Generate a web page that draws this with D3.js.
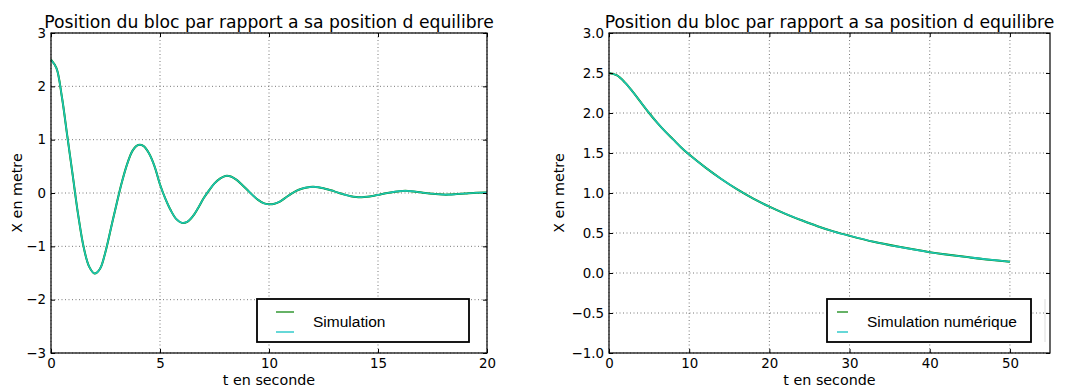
<!DOCTYPE html>
<html>
<head>
<meta charset="utf-8">
<script src="https://cdn.jsdelivr.net/npm/d3@7"></script>
<style>
  html, body { margin: 0; padding: 0; background: #fff; }
  svg { display: block; }
</style>
</head>
<body>
<div id="chart"></div>
<script>
// data
var titleText = "Position du bloc par rapport a sa position d equilibre";
var xLabelText = "t en seconde";
var yLabelText = "X en metre";

var leftTime = [0, 0.25, 0.5, 0.75, 1, 1.25, 1.5, 1.75, 2, 2.25, 2.5, 2.75, 3, 3.25, 3.5, 3.75,
  4, 4.25, 4.5, 4.75, 5, 5.25, 5.5, 5.75, 6, 6.25, 6.5, 6.75, 7, 7.25, 7.5, 7.75,
  8, 8.25, 8.5, 8.75, 9, 9.25, 9.5, 9.75, 10, 10.25, 10.5, 10.75, 11, 11.25, 11.5, 11.75,
  12, 12.25, 12.5, 12.75, 13, 13.25, 13.5, 13.75, 14, 14.25, 14.5, 14.75, 15, 15.5,
  16, 16.25, 16.5, 17, 17.5, 18, 18.25, 18.5, 19, 19.5, 20];
var leftSimulation = [2.5, 2.34, 1.8, 1.06, 0.32, -0.42, -1.02, -1.38, -1.51, -1.42, -1.1, -0.66, -0.22, 0.2, 0.55, 0.8,
  0.9, 0.88, 0.74, 0.5, 0.16, -0.11, -0.33, -0.49, -0.56, -0.54, -0.44, -0.28, -0.1, 0.05, 0.18, 0.27,
  0.32, 0.31, 0.25, 0.16, 0.06, -0.04, -0.13, -0.19, -0.21, -0.2, -0.16, -0.09, -0.02, 0.04, 0.08, 0.105,
  0.115, 0.11, 0.09, 0.06, 0.03, -0.005, -0.035, -0.06, -0.075, -0.078, -0.07, -0.055, -0.035, 0.005,
  0.035, 0.04, 0.035, 0.01, -0.015, -0.03, -0.03, -0.025, -0.01, 0.005, 0.01];

var rightTime = [0, 1, 2, 3, 4, 5, 6, 7, 8, 9, 10, 12, 14, 16, 18, 20, 22, 24, 26, 28, 30, 33, 36, 40, 45, 50];
var rightSimulation = [2.5, 2.47, 2.38, 2.26, 2.13, 2.0, 1.88, 1.77, 1.67, 1.57, 1.48, 1.32, 1.175, 1.045, 0.93, 0.83,
  0.74, 0.66, 0.585, 0.52, 0.465, 0.39, 0.33, 0.26, 0.195, 0.14];

var leftXTicks = [0, 5, 10, 15, 20];
var leftYTicks = [-3, -2, -1, 0, 1, 2, 3];
var rightXTicks = [0, 10, 20, 30, 40, 50];
var rightYTicks = [-1, -0.5, 0, 0.5, 1, 1.5, 2, 2.5, 3];

var leftLegend = ["Simulation"];
var rightLegend = ["Simulation numérique"];

var W = 1083, H = 387;
var svg = d3.select("#chart").append("svg")
  .attr("width", W)
  .attr("height", H);

var FONT = "DejaVu Sans, sans-serif";

function drawPanel(p) {
  var x = d3.scaleLinear().domain(p.xDomain).range([p.left, p.right]);
  var y = d3.scaleLinear().domain(p.yDomain).range([p.bottom, p.top]);
  var g = svg.append("g");

  // grid
  g.append("g").selectAll("line").data(p.xTicks).enter().append("line")
    .attr("x1", d => x(d)).attr("x2", d => x(d))
    .attr("y1", p.top).attr("y2", p.bottom)
    .attr("stroke", "#555").attr("stroke-width", 0.8)
    .attr("stroke-dasharray", "1,2.5");
  g.append("g").selectAll("line").data(p.yTicks).enter().append("line")
    .attr("x1", p.left).attr("x2", p.right)
    .attr("y1", d => y(d)).attr("y2", d => y(d))
    .attr("stroke", "#555").attr("stroke-width", 0.8)
    .attr("stroke-dasharray", "1,2.5");

  // curves (green under cyan)
  var line = d3.line()
    .x(d => x(d[0]))
    .y(d => y(d[1]))
    .curve(d3.curveCatmullRom);
  var pts = p.time.map((t, i) => [t, p.values[i]]);
  g.append("path").datum(pts)
    .attr("d", line).attr("fill", "none")
    .attr("stroke", "#008000").attr("stroke-width", 2);
  g.append("path").datum(pts)
    .attr("d", line).attr("fill", "none")
    .attr("stroke", "#1CC4B4").attr("stroke-width", 1.6);

  // axes, ticks pointing inward
  var bottom = g.append("g")
    .attr("transform", "translate(0," + p.bottom + ")")
    .call(d3.axisBottom(x).tickValues(p.xTicks).tickSize(-4).tickPadding(5.5).tickFormat(p.xFormat));
  var left = g.append("g")
    .attr("transform", "translate(" + p.left + ",0)")
    .call(d3.axisLeft(y).tickValues(p.yTicks).tickSize(-4).tickPadding(5).tickFormat(p.yFormat));
  var top = g.append("g")
    .attr("transform", "translate(0," + p.top + ")")
    .call(d3.axisTop(x).tickValues(p.xTicks).tickSize(-4).tickFormat(""));
  var rightAx = g.append("g")
    .attr("transform", "translate(" + p.right + ",0)")
    .call(d3.axisRight(y).tickValues(p.yTicks).tickSize(-4).tickFormat(""));

  [bottom, left, top, rightAx].forEach(a => {
    a.select(".domain").remove();
    a.selectAll("line").attr("stroke", "#000");
    a.selectAll("text").attr("fill", "#000")
      .attr("font-family", FONT).attr("font-size", 13.4);
  });

  // frame
  g.append("rect")
    .attr("x", p.left).attr("y", p.top)
    .attr("width", p.right - p.left).attr("height", p.bottom - p.top)
    .attr("fill", "none").attr("stroke", "#000").attr("stroke-width", 1.2);

  // title and labels
  g.append("text")
    .attr("x", (p.left + p.right) / 2).attr("y", 28)
    .attr("text-anchor", "middle")
    .attr("font-family", FONT).attr("font-size", 17.2)
    .attr("fill", "#000")
    .text(titleText);
  g.append("text")
    .attr("x", (p.left + p.right) / 2).attr("y", 385)
    .attr("text-anchor", "middle")
    .attr("font-family", FONT).attr("font-size", 14.3)
    .text(xLabelText);
  g.append("text")
    .attr("transform", "translate(" + p.yLabelX + "," + ((p.top + p.bottom) / 2) + ") rotate(-90)")
    .attr("text-anchor", "middle")
    .attr("font-family", FONT).attr("font-size", 14.3)
    .text(yLabelText);

  // legend
  var lg = p.legend;
  g.append("rect")
    .attr("x", lg.x0).attr("y", 299)
    .attr("width", lg.x1 - lg.x0).attr("height", 43)
    .attr("fill", "#fff").attr("stroke", "#000").attr("stroke-width", 1.8);
  g.append("line")
    .attr("x1", lg.l0).attr("x2", lg.l1).attr("y1", 312).attr("y2", 312)
    .attr("stroke", "#008000").attr("stroke-width", 1.5).attr("opacity", 0.8);
  g.append("line")
    .attr("x1", lg.l0).attr("x2", lg.l1).attr("y1", 332).attr("y2", 332)
    .attr("stroke", "#00BFBF").attr("stroke-width", 1.5).attr("opacity", 0.8);
  g.append("text")
    .attr("x", lg.tx).attr("y", 327)
    .attr("font-family", "Liberation Sans, Arial, sans-serif")
    .attr("font-size", 15.5)
    .text(lg.labels[0]);
}

drawPanel({
  left: 51, right: 487, top: 33, bottom: 353,
  xDomain: [0, 20], yDomain: [-3, 3],
  xTicks: leftXTicks, yTicks: leftYTicks,
  xFormat: d3.format("d"), yFormat: d3.format("d"),
  time: leftTime, values: leftSimulation,
  yLabelX: 22,
  legend: { x0: 257, x1: 469, l0: 276, l1: 294, tx: 313, labels: leftLegend }
});

drawPanel({
  left: 609, right: 1050, top: 33, bottom: 353,
  xDomain: [0, 55], yDomain: [-1, 3],
  xTicks: rightXTicks, yTicks: rightYTicks,
  xFormat: d3.format("d"), yFormat: d3.format(".1f"),
  time: rightTime, values: rightSimulation,
  yLabelX: 564,
  legend: { x0: 827, x1: 1031, l0: 837, l1: 848, tx: 867, labels: rightLegend }
});

// faint shadow line right of the second legend
svg.append("line")
  .attr("x1", 1045).attr("x2", 1045).attr("y1", 299).attr("y2", 342)
  .attr("stroke", "#ddd").attr("stroke-width", 1);
</script>
</body>
</html>
